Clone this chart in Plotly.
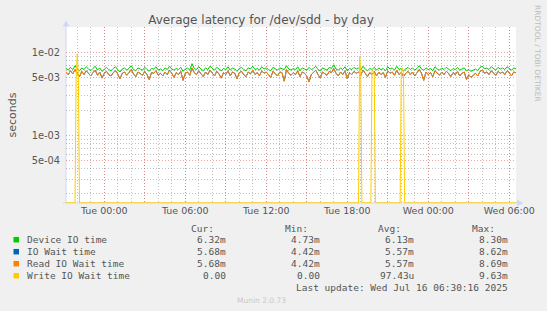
import plotly.graph_objects as go
import pandas as pd
import numpy as np

# ---------------- data ----------------
start = "2025-07-14 21:10"
end = "2025-07-16 06:30"

# 10-minute samples, milliseconds
device_io_ms = [
    6.4, 6.1, 6.6, 6.2, 6.9, 6.3, 6.0, 6.5, 6.2, 6.7,
    6.3, 6.0, 6.4, 6.8, 6.1, 6.5, 5.9, 6.3, 6.6, 6.2,
    6.0, 6.4, 6.7, 6.2, 5.8, 6.3, 6.5, 6.1, 6.4, 6.9,
    6.2, 6.0, 6.5, 6.3, 6.1, 6.6, 6.2, 5.9, 6.4, 6.3,
    6.7, 6.1, 6.3, 6.0, 6.5, 6.2, 6.8, 6.3, 6.1, 6.4,
    6.2, 6.6, 5.9, 6.3, 6.5, 6.1, 7.3, 6.4, 6.2, 6.7,
    6.3, 6.0, 6.5, 6.2, 6.8, 6.4, 6.1, 6.6, 6.3, 6.0,
    6.4, 6.2, 6.7, 6.1, 6.5, 6.3, 5.9, 6.4, 6.6, 6.2,
    6.0, 6.5, 6.3, 6.8, 6.2, 6.4, 6.1, 6.7, 6.3, 6.5,
    6.2, 6.0, 6.6, 6.3, 6.1, 6.5, 6.4, 6.2, 6.9, 6.3,
    6.1, 6.4, 6.2, 6.7, 6.0, 6.5, 6.3, 6.1, 6.6, 6.2,
    6.4, 6.8, 6.2, 6.0, 6.5, 6.3, 6.1, 6.6, 6.4, 7.1,
    6.3, 6.1, 6.5, 6.2, 6.7, 6.0, 6.4, 6.2, 6.6, 6.3,
    6.5, 6.1, 6.8, 6.3, 6.0, 6.4, 6.2, 6.6, 6.1, 6.5,
    6.2, 6.4, 6.0, 6.7, 6.3, 6.5, 6.1, 6.8, 6.2, 6.4,
    6.0, 6.3, 6.6, 6.2, 6.5, 6.1, 6.4, 6.9, 6.3, 6.1,
    6.5, 6.2, 6.4, 6.0, 6.7, 6.3, 6.1, 6.5, 6.2, 6.6,
    6.3, 6.0, 6.4, 6.2, 6.6, 6.1, 6.3, 6.5, 6.0, 6.2,
    5.9, 6.1, 6.3, 6.0, 6.6, 6.8, 6.3, 6.5, 6.2, 6.7,
    6.4, 6.1, 6.6, 6.3, 6.5, 6.2, 6.7, 6.4, 6.1, 6.5,
    6.32,
]
read_wait_ms = [
    5.8, 5.4, 6.0, 5.5, 6.2, 5.6, 5.1, 5.9, 5.4, 6.0,
    5.6, 5.2, 5.7, 6.1, 5.3, 5.8, 4.9, 5.6, 5.9, 5.4,
    5.2, 5.7, 6.0, 5.5, 4.8, 5.6, 5.8, 5.3, 5.7, 6.2,
    5.5, 5.1, 5.8, 5.6, 5.3, 5.9, 5.4, 4.7, 5.7, 5.6,
    6.0, 5.3, 5.6, 5.2, 5.8, 5.4, 6.1, 5.6, 5.0, 5.7,
    5.4, 5.9, 4.6, 5.6, 5.8, 5.3, 6.5, 5.7, 5.4, 6.0,
    5.6, 5.1, 5.8, 5.4, 6.1, 5.7, 5.2, 5.9, 5.5, 4.9,
    5.7, 5.4, 6.0, 5.2, 5.8, 5.6, 4.8, 5.7, 5.9, 5.4,
    5.1, 5.8, 5.5, 6.1, 5.4, 5.7, 5.2, 6.0, 5.6, 5.8,
    5.4, 5.0, 5.9, 5.6, 5.2, 5.8, 5.7, 4.5, 6.2, 5.6,
    5.3, 5.7, 5.4, 6.0, 5.1, 5.8, 5.6, 5.2, 4.4, 5.4,
    5.7, 6.1, 5.4, 4.9, 5.8, 5.6, 5.3, 5.9, 5.7, 6.4,
    5.6, 5.2, 5.8, 5.4, 6.0, 4.8, 5.7, 5.4, 5.9, 5.6,
    5.8, 5.3, 6.1, 5.6, 5.1, 5.7, 5.4, 5.9, 5.2, 5.8,
    5.4, 5.7, 5.0, 6.0, 5.6, 5.8, 5.3, 6.1, 5.4, 5.7,
    5.1, 5.6, 5.9, 5.4, 5.8, 5.2, 5.7, 6.2, 5.6, 4.6,
    5.8, 5.4, 5.7, 5.1, 6.0, 5.6, 5.3, 5.8, 5.4, 5.9,
    5.6, 5.1, 5.7, 5.4, 5.9, 5.2, 5.6, 5.8, 4.7, 5.4,
    5.0, 5.3, 5.6, 5.2, 5.9, 6.1, 5.6, 5.8, 5.4, 6.0,
    5.7, 5.3, 5.9, 5.6, 5.8, 5.4, 6.0, 5.7, 5.2, 5.8,
    5.68,
]
# IO wait equals read wait here (write wait is ~0); hidden under orange
io_wait_ms = list(read_wait_ms)

# write IO wait: 0 everywhere except these 5-minute samples (ms)
write_spike_times = [
    "2025-07-14 21:55", "2025-07-14 22:00", "2025-07-14 22:05",
    "2025-07-15 18:55", "2025-07-15 19:00",
    "2025-07-15 19:50", "2025-07-15 19:55", "2025-07-15 20:00",
    "2025-07-15 22:00", "2025-07-15 22:05", "2025-07-15 22:10",
]
write_spike_ms = [4.8, 9.63, 5.0, 8.9, 6.0, 6.3, 6.0, 5.5, 5.8, 6.5, 5.5]

x_tick_times = ["2025-07-15 00:00", "2025-07-15 06:00", "2025-07-15 12:00",
                "2025-07-15 18:00", "2025-07-16 00:00", "2025-07-16 06:00"]
x_tick_labels = ["Tue 00:00", "Tue 06:00", "Tue 12:00",
                 "Tue 18:00", "Wed 00:00", "Wed 06:00"]
y_tick_vals = [5e-4, 1e-3, 5e-3, 1e-2]
y_tick_labels = ["5e-04", "1e-03", "5e-03", "1e-02"]

legend_names = ["Device IO time", "IO Wait time", "Read IO Wait time", "Write IO Wait time"]
legend_colors = ["#00CC00", "#0066B3", "#FF8000", "#FFCC00"]
legend_cur = ["6.32m", "5.68m", "5.68m", "0.00"]
legend_min = ["4.73m", "4.42m", "4.42m", "0.00"]
legend_avg = ["6.13m", "5.57m", "5.57m", "97.43u"]
legend_max = ["8.30m", "8.62m", "8.69m", "9.63m"]

# ---------------- build ----------------
W, H = 547, 311
L, R, T, B = 66, 516, 27, 203
YMIN, YMAX = -3.807, -1.697


def px(x):
    return (x - L) / (R - L)


def py(y):
    return (B - y) / (B - T)


t10 = pd.date_range(start, end, freq="10min")
t5 = pd.date_range(start, end, freq="5min")
write_s = pd.Series(0.0, index=t5)
for tt, v in zip(write_spike_times, write_spike_ms):
    write_s[pd.Timestamp(tt)] = v
floor = 10 ** (YMIN + 0.15 / 83.4)  # zero drawn on the bottom edge, as rrdtool does
write_vals = np.where(write_s.values > 0, write_s.values / 1000.0, floor)

fig = go.Figure()
fig.add_trace(go.Scatter(x=t10, y=np.array(device_io_ms) / 1000, mode="lines",
                         line=dict(color=legend_colors[0], width=1)))
fig.add_trace(go.Scatter(x=t10, y=np.array(io_wait_ms) / 1000, mode="lines",
                         line=dict(color=legend_colors[1], width=1)))
fig.add_trace(go.Scatter(x=t10, y=np.array(read_wait_ms) / 1000, mode="lines",
                         line=dict(color=legend_colors[2], width=1)))
fig.add_trace(go.Scatter(x=t5, y=write_vals, mode="lines",
                         line=dict(color=legend_colors[3], width=1)))

red_grid = "rgba(225,90,90,0.55)"
grey_grid = "rgba(130,130,130,0.5)"
axis_col = "#CFD6F8"
txt = "#555555"

major_x = pd.date_range("2025-07-14 21:00", end, freq="3h")
major_x_text = []
for m in major_x:
    s = m.strftime("%Y-%m-%d %H:%M")
    major_x_text.append(x_tick_labels[x_tick_times.index(s)] if s in x_tick_times else "")

fig.update_layout(
    width=W, height=H,
    margin=dict(l=L, r=W - R, t=T, b=H - B),
    paper_bgcolor="#F0F0F0", plot_bgcolor="#FFFFFF",
    showlegend=False,
    font=dict(family="DejaVu Sans", color=txt, size=9.5),
    title=dict(text="Average latency for /dev/sdd - by day", x=261 / W, xanchor="center",
               y=1 - 19.5 / H, yanchor="middle", xref="container", yref="container",
               font=dict(size=12, color=txt, family="DejaVu Sans")),
    xaxis=dict(type="date", range=[start, end], tickmode="array",
               tickvals=list(major_x), ticktext=major_x_text,
               showgrid=True, gridcolor=red_grid, griddash="1px,2px", gridwidth=1,
               ticks="", showline=False, zeroline=False,
               tickfont=dict(size=9.5, color=txt),
               minor=dict(dtick=3600000, showgrid=True, gridcolor=grey_grid,
                          griddash="1px,2px", gridwidth=1)),
    yaxis=dict(type="log", range=[YMIN, YMAX], tickmode="array",
               tickvals=y_tick_vals, ticktext=y_tick_labels,
               showgrid=True, gridcolor=red_grid, griddash="1px,2px", gridwidth=1,
               ticks="", showline=False, zeroline=False,
               tickfont=dict(size=9.8, color=txt), ticklabelstandoff=5,
               minor=dict(tickmode="array",
                          tickvals=[2e-4, 3e-4, 4e-4, 6e-4, 7e-4, 8e-4, 9e-4,
                                    2e-3, 3e-3, 4e-3, 6e-3, 7e-3, 8e-3, 9e-3, 2e-2],
                          showgrid=True, gridcolor=grey_grid, griddash="1px,2px",
                          gridwidth=1)),
)

shapes = [
    dict(type="line", xref="paper", yref="paper", x0=px(66), x1=px(66), y0=py(203), y1=py(25),
         line=dict(color=axis_col, width=1), layer="between"),
    dict(type="line", xref="paper", yref="paper", x0=px(63), x1=px(518), y0=py(203), y1=py(203),
         line=dict(color=axis_col, width=1), layer="between"),
    dict(type="path", xref="paper", yref="paper",
         path=f"M {px(62.5)},{py(26.5)} L {px(66)},{py(20.5)} L {px(69.5)},{py(26.5)} Z",
         fillcolor=axis_col, line=dict(width=0)),
    dict(type="path", xref="paper", yref="paper",
         path=f"M {px(517)},{py(199.5)} L {px(523)},{py(203)} L {px(517)},{py(206.5)} Z",
         fillcolor=axis_col, line=dict(width=0)),
]

ann = []
ann.append(dict(text="seconds", xref="paper", yref="paper", x=px(11.5), y=py(115),
                xanchor="center", yanchor="middle",
                textangle=-90, showarrow=False, font=dict(size=11, color=txt)))
ann.append(dict(text="RRDTOOL / TOBI OETIKER", xref="paper", yref="paper", x=px(538), y=py(53),
                xanchor="center", yanchor="middle",
                textangle=90, showarrow=False, font=dict(size=7.5, color="#BBBBBB")))
mono = "DejaVu Sans Mono"
for hx, htxt in zip([216, 310, 403, 497], ["Cur:", "Min:", "Avg:", "Max:"]):
    ann.append(dict(text=htxt, xref="paper", yref="paper", x=px(hx), y=py(228),
                    xanchor="right", yanchor="middle", showarrow=False,
                    font=dict(family=mono, size=9.5, color=txt)))
rows_y = [239.7, 251.7, 263.7, 275.7]
for i, ry in enumerate(rows_y):
    shapes.append(dict(type="rect", xref="paper", yref="paper",
                       x0=px(13.5), x1=px(19), y0=py(ry - 2.75), y1=py(ry + 2.75),
                       fillcolor=legend_colors[i], line=dict(width=0)))
    ann.append(dict(text=legend_names[i], xref="paper", yref="paper", x=px(25), y=py(ry),
                    xanchor="left", yanchor="middle", showarrow=False,
                    font=dict(family=mono, size=9.5, color=txt)))
    for vx, col in zip([228, 322, 416, 509.5], [legend_cur, legend_min, legend_avg, legend_max]):
        ann.append(dict(text=col[i], xref="paper", yref="paper", x=px(vx), y=py(ry),
                        xanchor="right", yanchor="middle", showarrow=False,
                        font=dict(family=mono, size=9.5, color=txt)))
ann.append(dict(text="Last update: Wed Jul 16 06:30:16 2025", xref="paper", yref="paper",
                x=px(509.5), y=py(287), xanchor="right", yanchor="middle", showarrow=False,
                font=dict(family=mono, size=9.5, color=txt)))
ann.append(dict(text="Munin 2.0.73", xref="paper", yref="paper", x=px(261), y=py(300),
                xanchor="center", yanchor="middle",
                showarrow=False, font=dict(size=7.5, color="#C8C8C8")))

fig.update_layout(shapes=shapes, annotations=ann)
fig.write_html("out.html")
